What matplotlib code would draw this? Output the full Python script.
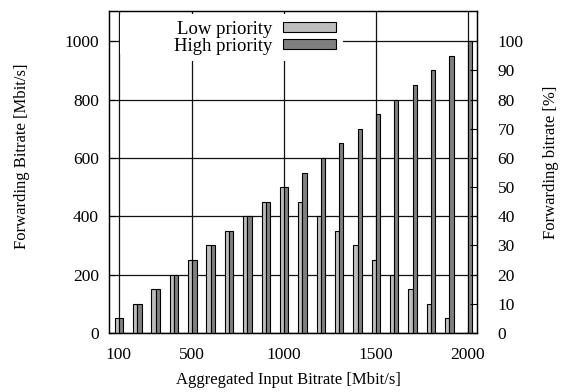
import matplotlib

matplotlib.use("Agg")
import matplotlib.pyplot as plt
from matplotlib.patches import Rectangle
import numpy as np

plt.rcParams["font.family"] = ["Liberation Serif", "DejaVu Serif"]
plt.rcParams["font.size"] = 12.5

# aggregated input bitrate per run [Mbit/s]
input_rates = [100, 200, 300, 400, 500, 600, 700, 800, 900, 1000,
               1100, 1200, 1300, 1400, 1500, 1600, 1700, 1800, 1900, 2000]
# forwarded bitrate per priority class [Mbit/s]
low_prio = [50, 100, 150, 200, 250, 300, 350, 400, 450, 500,
            450, 400, 350, 300, 250, 200, 150, 100, 50, 0]
high_prio = [50, 100, 150, 200, 250, 300, 350, 400, 450, 500,
             550, 600, 650, 700, 750, 800, 850, 900, 950, 1000]
labelled_rates = [100, 500, 1000, 1500, 2000]

LOW_COLOR = "#bdbdbd"
HIGH_COLOR = "#7f7f7f"

fig = plt.figure(figsize=(5.61, 3.92), dpi=100)
ax = fig.add_axes([0.194, 0.1505, 0.656, 0.8215])

x = np.arange(len(input_rates))
w = 0.23
ax.bar(x - w / 2, low_prio, w, color=LOW_COLOR, edgecolor="black",
       linewidth=0.8, label="Low priority", zorder=3)
ax.bar(x + w / 2, high_prio, w, color=HIGH_COLOR, edgecolor="black",
       linewidth=0.8, label="High priority", zorder=3)

ax.set_xlim(-0.55, len(input_rates) - 0.5)
ax.set_ylim(0, 1104)
ax.set_yticks(range(0, 1001, 200))
ax.set_xticks([input_rates.index(r) for r in labelled_rates])
ax.set_xticklabels([str(r) for r in labelled_rates])
ax.tick_params(axis="both", direction="in", length=4, width=0.8, color="black")
ax.tick_params(axis="y", pad=7)
ax.tick_params(axis="x", pad=10)
ax.grid(True, color="#111111", linewidth=0.9, zorder=0)
ax.set_axisbelow(True)
for s in ax.spines.values():
    s.set_linewidth(0.9)

ax.set_xlabel("Aggregated Input Bitrate [Mbit/s]", fontsize=12)
ax.xaxis.set_label_coords(0.489, -0.122)
ax.set_ylabel("Forwarding Bitrate [Mbit/s]", fontsize=12)
ax.yaxis.set_label_coords(-0.215, 0.55)

# percentage scale on the right, 1000 Mbit/s == 100 %
ax2 = ax.twinx()
ax2.set_ylim(0, 110.4)
ax2.set_yticks(range(0, 101, 10))
ax2.tick_params(axis="y", direction="in", length=5, width=0.8, pad=15)
ax2.set_ylabel("Forwarding bitrate [%]", fontsize=12)
ax2.yaxis.set_label_coords(1.18, 0.53)
for s in ax2.spines.values():
    s.set_linewidth(0.9)

# blank key area hides the grid behind the legend
ax.add_patch(Rectangle((0.03, 0.865), 0.606, 0.123, transform=ax.transAxes,
                       facecolor="white", edgecolor="none", zorder=2))
leg = ax.legend(loc="upper right", bbox_to_anchor=(0.636, 0.99),
                markerfirst=False, frameon=True, framealpha=1.0,
                edgecolor="none", fancybox=False, fontsize=13.5,
                handlelength=2.85, handleheight=0.45, handletextpad=0.55,
                labelspacing=0.0, borderpad=0.35, borderaxespad=0.0)
leg.set_zorder(5)

fig.savefig("out.png", dpi=100)
